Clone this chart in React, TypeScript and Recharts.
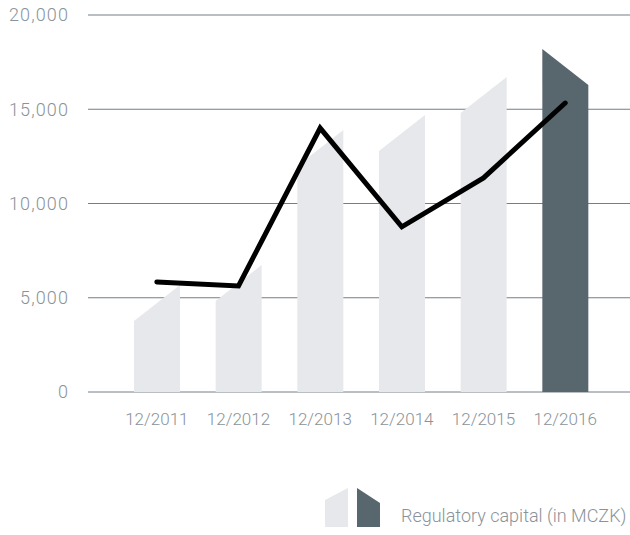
import { ComposedChart, Bar, Line, XAxis, YAxis, CartesianGrid } from 'recharts'

const periods = ['12/2011', '12/2012', '12/2013', '12/2014', '12/2015', '12/2016']
// bar height at its higher corner
const capitalBars = [5680, 6740, 13900, 14700, 16710, 18200]
// black line
const capitalLine = [5840, 5630, 14000, 8760, 11360, 15330]
const yTicks = [0, 5000, 10000, 15000, 20000]

const LIGHT = '#e6e8eb'
const DARK = '#58666e'
const GRID = '#737f87'
const TEXT = '#8a9399'
const FONT = 'Roboto, "Noto Sans", sans-serif'
const SLANT = 36

const data = periods.map((p, i) => ({ period: p, bar: capitalBars[i], line: capitalLine[i] }))

function SlantBar(props: any) {
  const { x, y, width, height, index } = props
  const last = index === periods.length - 1
  const b = y + height
  const pts = last
    ? `${x},${y} ${x + width},${y + SLANT} ${x + width},${b} ${x},${b}`
    : `${x},${y + SLANT} ${x + width},${y} ${x + width},${b} ${x},${b}`
  return <polygon points={pts} fill={last ? DARK : LIGHT} />
}

export default function App() {
  return (
    <div style={{ position: 'absolute', left: 0, top: 0, width: 630, height: 535, background: '#fff' }}>
      <ComposedChart width={630} height={440} data={data}
        margin={{ top: 15, right: 0, left: 0, bottom: 18 }}>
        <CartesianGrid vertical={false} stroke={GRID} strokeWidth={1} />
        <XAxis dataKey="period" axisLine={false} tickLine={false} tickSize={0} tickMargin={21}
          height={30} padding={{ left: 28, right: 24 }}
          tick={{ fill: TEXT, fontSize: 17, fontFamily: FONT, fontWeight: 300 }} />
        <YAxis domain={[0, 20000]} ticks={yTicks} axisLine={false} tickLine={false}
          tickSize={0} tickMargin={19} width={88}
          tickFormatter={(v: number) => v.toLocaleString('en-US')}
          tick={{ fill: TEXT, fontSize: 18, fontFamily: FONT, fontWeight: 300, letterSpacing: 1.1 }} />
        <Bar dataKey="bar" barSize={46} shape={<SlantBar />} isAnimationActive={false} />
        <Line type="linear" dataKey="line" stroke="#000" strokeWidth={5} dot={false}
          activeDot={false} strokeLinecap="round" isAnimationActive={false} />
      </ComposedChart>
      <div style={{ position: 'absolute', left: 325, top: 488, display: 'flex', alignItems: 'flex-end' }}>
        <svg width={56} height={40}>
          <polygon points="0,12 23,0 23,39 0,39" fill={LIGHT} />
          <polygon points="32,0 55,15 55,39 32,39" fill={DARK} />
        </svg>
        <span style={{ marginLeft: 20, fontFamily: FONT, fontWeight: 300, fontSize: 18,
          color: TEXT, lineHeight: '20px', marginBottom: 2, whiteSpace: 'nowrap' }}>
          Regulatory capital (in MCZK)
        </span>
      </div>
    </div>
  )
}
